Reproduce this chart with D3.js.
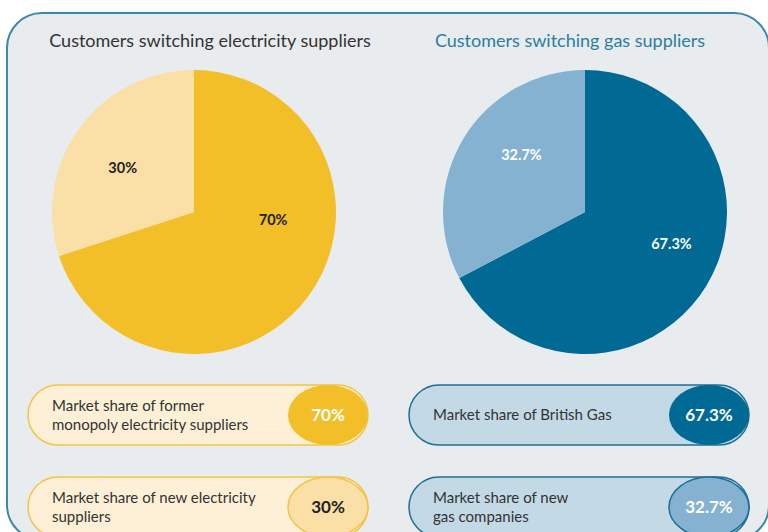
<!DOCTYPE html>
<html>
<head>
<meta charset="utf-8">
<script src="https://cdn.jsdelivr.net/npm/d3@7"></script>
<style>
  body { margin: 0; background: white; }
  svg text { font-family: Lato, "Noto Sans", sans-serif; }
</style>
</head>
<body>
<div id="chart"></div>
<script>
// data
var titles = ["Customers switching electricity suppliers", "Customers switching gas suppliers"];
var elecLabels = ["Market share of former monopoly electricity suppliers", "Market share of new electricity suppliers"];
var elecValues = [70, 30];
var gasLabels = ["Market share of British Gas", "Market share of new gas companies"];
var gasValues = [67.3, 32.7];
var elecLegendLines = [["Market share of former", "monopoly electricity suppliers"], ["Market share of new electricity", "suppliers"]];
var gasLegendLines = [["Market share of British Gas"], ["Market share of new", "gas companies"]];

var W = 768, H = 532;

var svg = d3.select("#chart")
  .append("svg")
  .attr("width", W)
  .attr("height", H);

// panel
svg.append("rect")
  .attr("x", 7).attr("y", 13)
  .attr("width", 762).attr("height", 527)
  .attr("rx", 35).attr("ry", 35)
  .attr("fill", "#e8ecef")
  .attr("stroke", "#3d88a8")
  .attr("stroke-width", 2);

var panels = [
  { title: titles[0], titleColor: "#333333", values: elecValues, cats: elecLabels, lines: elecLegendLines,
    cx: 194, titleX: 210,
    colors: ["#f3bf29", "#fadfa6"], labelColor: ["#222", "#222"],
    labelFrac: [0.38, 0.46], labelR: [0.56, 0.59],
    pillFill: "#fdf0d6", pillStroke: "#f3c344",
    badgeText: ["#ffffff", "#222222"], badgeStroke: [null, "#f3c344"],
    pillX: 28, textX: 52 },
  { title: titles[1], titleColor: "#2b7ea1", values: gasValues, cats: gasLabels, lines: gasLegendLines,
    cx: 585, titleX: 570,
    colors: ["#006994", "#84b2d0"], labelColor: ["#ffffff", "#ffffff"],
    labelFrac: [0.456, 0.59], labelR: [0.65, 0.6],
    pillFill: "#c3d9e6", pillStroke: "#1d6e95",
    badgeText: ["#ffffff", "#ffffff"], badgeStroke: [null, "#1d6e95"],
    pillX: 409, textX: 433 }
];

var radius = 142, cy = 212;

var pie = d3.pie().sort(null).value(d => d);
var arc = d3.arc().innerRadius(0).outerRadius(radius);

var fmt = function (d) { return (Number.isInteger(d) ? d3.format(".0f")(d) : d3.format(".1f")(d)) + "%"; };

panels.forEach(function (p) {
  svg.append("text")
    .attr("x", p.titleX)
    .attr("y", 47)
    .attr("text-anchor", "middle")
    .attr("fill", p.titleColor)
    .style("font-size", "18px")
    .text(p.title);

  var g = svg.append("g")
    .attr("transform", "translate(" + p.cx + "," + cy + ")");

  var arcs = pie(p.values);

  g.selectAll("path")
    .data(arcs)
    .enter()
    .append("path")
    .attr("d", arc)
    .attr("fill", (d, i) => p.colors[i]);

  g.selectAll("text.lbl")
    .data(arcs)
    .enter()
    .append("text")
    .attr("class", "lbl")
    .attr("transform", function (d, i) {
      var a = d.startAngle + (d.endAngle - d.startAngle) * p.labelFrac[i];
      var r = radius * p.labelR[i];
      return "translate(" + (Math.sin(a) * r) + "," + (-Math.cos(a) * r) + ")";
    })
    .attr("text-anchor", "middle")
    .attr("dy", "0.35em")
    .attr("fill", (d, i) => p.labelColor[i])
    .style("font-size", "14.5px")
    .style("font-weight", "bold")
    .text(d => fmt(d.data));

  // legend pills
  var pillW = 340, pillH = 60;
  var ys = d3.scalePoint().domain(p.cats).range([385, 477]);

  var pill = svg.selectAll(null)
    .data(p.cats)
    .enter()
    .append("g")
    .attr("transform", d => "translate(" + p.pillX + "," + ys(d) + ")");

  pill.append("rect")
    .attr("width", pillW).attr("height", pillH)
    .attr("rx", 30).attr("ry", 30)
    .attr("fill", p.pillFill)
    .attr("stroke", p.pillStroke)
    .attr("stroke-width", 1.5);

  pill.append("ellipse")
    .attr("cx", pillW - 40).attr("cy", pillH / 2)
    .attr("rx", 40).attr("ry", 30)
    .attr("fill", (d, i) => p.colors[i])
    .attr("stroke", (d, i) => p.badgeStroke[i] || "none")
    .attr("stroke-width", 1.5);

  pill.append("text")
    .attr("x", pillW - 40).attr("y", pillH / 2)
    .attr("dy", "0.36em")
    .attr("text-anchor", "middle")
    .attr("fill", (d, i) => p.badgeText[i])
    .style("font-size", "17px")
    .style("font-weight", "bold")
    .text((d, i) => fmt(p.values[i]));

  pill.each(function (d, i) {
    var lines = p.lines[i];
    var t = d3.select(this).append("text")
      .attr("fill", "#333333")
      .style("font-size", "15px");
    lines.forEach(function (ln, j) {
      t.append("tspan")
        .attr("x", p.textX - p.pillX)
        .attr("y", pillH / 2 + (j - (lines.length - 1) / 2) * 19)
        .attr("dy", "0.35em")
        .text(ln);
    });
  });
});
</script>
</body>
</html>
